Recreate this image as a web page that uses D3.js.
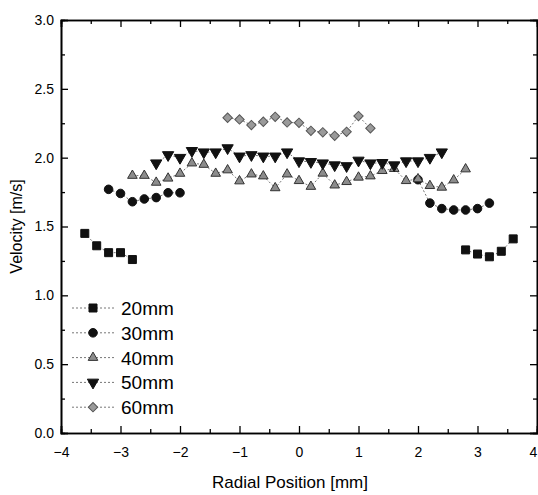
<!DOCTYPE html>
<html>
<head>
<meta charset="utf-8">
<script src="https://cdn.jsdelivr.net/npm/d3@7"></script>
<style>
  body { margin: 0; background: #fff; }
  svg { display: block; font-family: "Liberation Sans", Arial, sans-serif; }
</style>
</head>
<body>
<div id="chart"></div>
<script>
// radial positions [mm] and velocities [m/s]; null splits a line
const radial20 = [-3.6, -3.4, -3.2, -3.0, -2.8, null, 2.8, 3.0, 3.2, 3.4, 3.6];
const velocity20 = [1.45, 1.36, 1.31, 1.31, 1.26, null, 1.33, 1.30, 1.28, 1.32, 1.41];

const radial30 = [-3.2, -3.0, -2.8, -2.6, -2.4, -2.2, -2.0, null, 2.0, 2.2, 2.4, 2.6, 2.8, 3.0, 3.2];
const velocity30 = [1.77, 1.74, 1.68, 1.70, 1.71, 1.745, 1.745, null, 1.84, 1.67, 1.63, 1.62, 1.62, 1.63, 1.67];

const radial40 = [-2.8, -2.6, -2.4, -2.2, -2.0, -1.8, -1.6, -1.4, -1.2, -1.0, -0.8, -0.6, -0.4, -0.2, 0.0,
  0.2, 0.4, 0.6, 0.8, 1.0, 1.2, 1.4, 1.6, 1.8, 2.0, 2.2, 2.4, 2.6, 2.8];
const velocity40 = [1.87, 1.87, 1.82, 1.85, 1.885, 1.96, 1.95, 1.885, 1.91, 1.83, 1.88, 1.866, 1.78, 1.88, 1.832,
  1.79, 1.886, 1.80, 1.825, 1.857, 1.866, 1.905, 1.92, 1.832, 1.845, 1.796, 1.784, 1.837, 1.917];

const radial50 = [-2.4, -2.2, -2.0, -1.8, -1.6, -1.4, -1.2, -1.0, -0.8, -0.6, -0.4, -0.2, 0.0,
  0.2, 0.4, 0.6, 0.8, 1.0, 1.2, 1.4, 1.6, 1.8, 2.0, 2.2, 2.4];
const velocity50 = [1.96, 2.02, 2.00, 2.05, 2.04, 2.04, 2.07, 2.01, 2.02, 2.01, 2.01, 2.04, 1.975,
  1.97, 1.96, 1.946, 1.94, 1.98, 1.96, 1.963, 1.946, 1.975, 1.975, 2.00, 2.04];

const radial60 = [-1.2, -1.0, -0.8, -0.6, -0.4, -0.2, 0.0, 0.2, 0.4, 0.6, 0.8, 1.0, 1.2];
const velocity60 = [2.29, 2.278, 2.237, 2.261, 2.297, 2.256, 2.253, 2.195, 2.184, 2.159, 2.188, 2.302, 2.213];

const seriesNames = ["20mm", "30mm", "40mm", "50mm", "60mm"];
const xTicks = [-4, -3, -2, -1, 0, 1, 2, 3, 4];
const yTicks = [0.0, 0.5, 1.0, 1.5, 2.0, 2.5, 3.0];

const width = 538;
const height = 495;
const margin = { top: 20, right: 1, bottom: 62, left: 61 };

const x = d3.scaleLinear().domain([-4, 4]).range([margin.left, width - margin.right]);
const y = d3.scaleLinear().domain([0, 3]).range([height - margin.bottom, margin.top]);

const styles = [
  { shape: d3.symbolSquare, size: 64, fill: "#111", stroke: "#111", rotate: 0 },
  { shape: d3.symbolCircle, size: 58, fill: "#111", stroke: "#111", rotate: 0 },
  { shape: d3.symbolTriangle, size: 40, fill: "#8c8c8c", stroke: "#333", rotate: 0 },
  { shape: d3.symbolTriangle, size: 55, fill: "#111", stroke: "#111", rotate: 180 },
  { shape: d3.symbolSquare, size: 44, fill: "#9a9a9a", stroke: "#555", rotate: 45 },
];

const series = [
  [radial20, velocity20],
  [radial30, velocity30],
  [radial40, velocity40],
  [radial50, velocity50],
  [radial60, velocity60],
].map(([xs, ys], i) => ({
  name: seriesNames[i],
  style: styles[i],
  points: xs.map((r, j) => ({ r: r, v: ys[j] })),
}));

const svg = d3
  .select("#chart")
  .append("svg")
  .attr("width", width)
  .attr("height", height);

// axes, ticks pointing inward on all four sides
function styleAxis(g) {
  g.selectAll(".domain").attr("stroke", "#000").attr("stroke-width", 1.6);
  g.selectAll(".tick line").attr("stroke", "#000").attr("stroke-width", 1.3);
  g.selectAll("text").attr("font-size", "14px").attr("fill", "#000");
}

const xMinor = d3.range(-3.5, 4, 1);
const yMinor = d3.range(0.25, 3, 0.5);

[
  [d3.axisBottom(x), `translate(0,${y(0)})`],
  [d3.axisTop(x), `translate(0,${y(3)})`],
].forEach(([ax, tr]) => {
  svg.append("g").attr("transform", tr)
    .call(ax.tickValues(xMinor).tickSize(-4).tickFormat(""))
    .call(styleAxis);
});
[
  [d3.axisLeft(y), `translate(${x(-4)},0)`],
  [d3.axisRight(y), `translate(${x(4)},0)`],
].forEach(([ax, tr]) => {
  svg.append("g").attr("transform", tr)
    .call(ax.tickValues(yMinor).tickSize(-4).tickFormat(""))
    .call(styleAxis);
});

const xAxis = svg.append("g")
  .attr("transform", `translate(0,${y(0)})`)
  .call(d3.axisBottom(x).tickValues(xTicks).tickSize(-7).tickPadding(14).tickFormat(d3.format("d")))
  .call(styleAxis);
// last label sits at the window edge; nudge it in so it stays whole
xAxis.selectAll(".tick text").filter((d) => d === 4).attr("dx", "-4");

svg.append("g")
  .attr("transform", `translate(0,${y(3)})`)
  .call(d3.axisTop(x).tickValues(xTicks).tickSize(-7).tickFormat(""))
  .call(styleAxis);
svg.append("g")
  .attr("transform", `translate(${x(-4)},0)`)
  .call(d3.axisLeft(y).tickValues(yTicks).tickSize(-7).tickPadding(7).tickFormat(d3.format(".1f")))
  .call(styleAxis);
svg.append("g")
  .attr("transform", `translate(${x(4)},0)`)
  .call(d3.axisRight(y).tickValues(yTicks).tickSize(-7).tickFormat(""))
  .call(styleAxis);

// axis titles
svg.append("text")
  .attr("x", 290)
  .attr("y", 488)
  .attr("text-anchor", "middle")
  .attr("font-size", "17px")
  .text("Radial Position [mm]");

svg.append("text")
  .attr("transform", `translate(22,${(y(0) + y(3)) / 2}) rotate(-90)`)
  .attr("text-anchor", "middle")
  .attr("font-size", "16px")
  .text("Velocity [m/s]");

// series lines and markers
const line = d3.line()
  .defined((d) => d.r !== null && d.v !== null)
  .x((d) => x(d.r))
  .y((d) => y(d.v));

series.forEach((s) => {
  svg.append("path")
    .datum(s.points)
    .attr("d", line)
    .attr("fill", "none")
    .attr("stroke", "#777")
    .attr("stroke-width", 1)
    .attr("stroke-dasharray", "2,2");
});

series.forEach((s) => {
  const sym = d3.symbol().type(s.style.shape).size(s.style.size);
  svg.append("g")
    .selectAll("path")
    .data(s.points.filter((d) => d.r !== null))
    .enter()
    .append("path")
    .attr("d", sym)
    .attr("transform", (d) => `translate(${x(d.r)},${y(d.v)}) rotate(${s.style.rotate})`)
    .attr("fill", s.style.fill)
    .attr("stroke", s.style.stroke)
    .attr("stroke-width", 1);
});

// legend
const legend = svg.append("g").attr("transform", "translate(72,308)");
series.forEach((s, i) => {
  const row = legend.append("g").attr("transform", `translate(0,${i * 24.8})`);
  row.append("line")
    .attr("x1", 0)
    .attr("x2", 43)
    .attr("stroke", "#777")
    .attr("stroke-width", 1)
    .attr("stroke-dasharray", "2,2");
  row.append("path")
    .attr("d", d3.symbol().type(s.style.shape).size(s.style.size))
    .attr("transform", `translate(21,0) rotate(${s.style.rotate})`)
    .attr("fill", s.style.fill)
    .attr("stroke", s.style.stroke);
  row.append("text")
    .attr("x", 49)
    .attr("y", 7)
    .attr("font-size", "19px")
    .text(s.name);
});
</script>
</body>
</html>
